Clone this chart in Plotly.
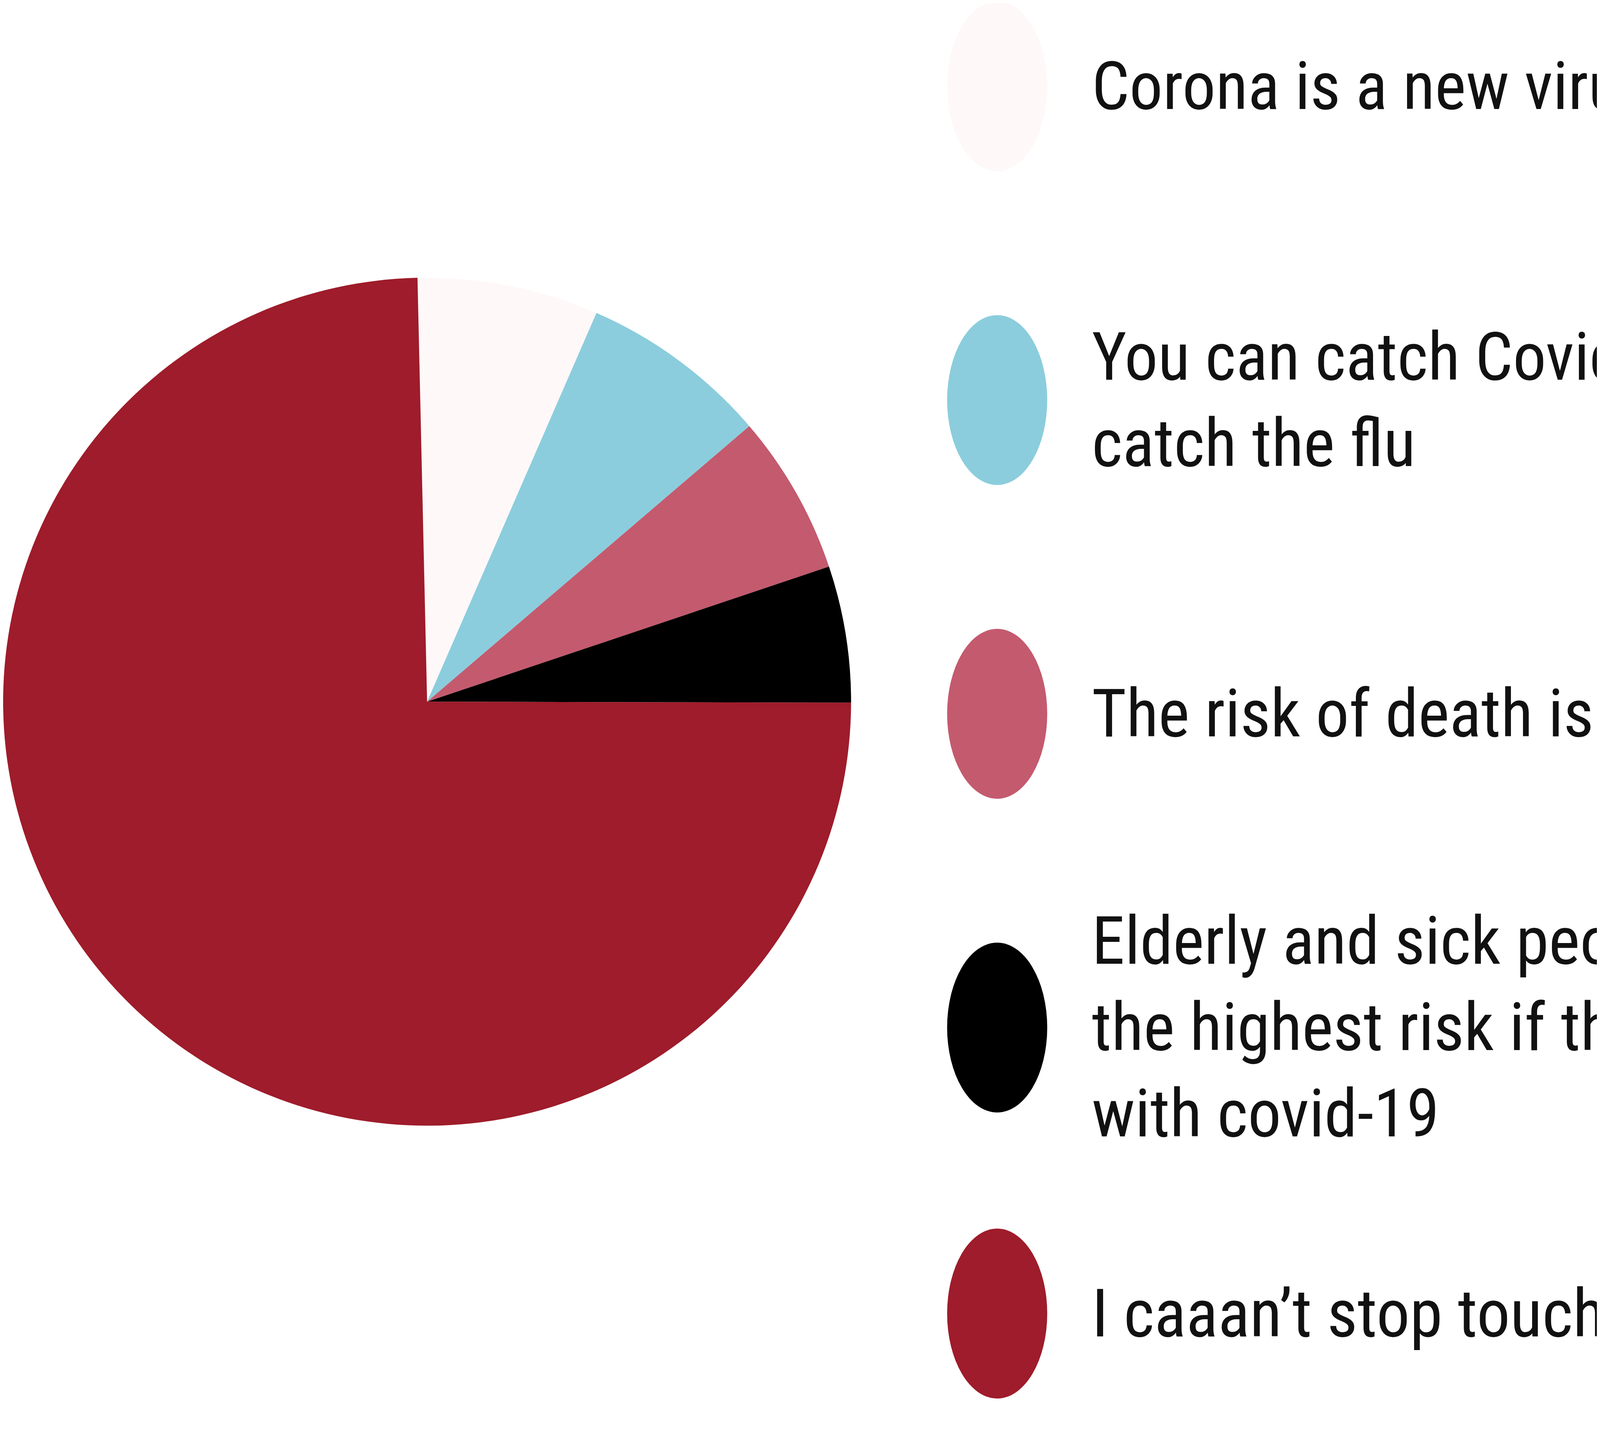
import plotly.graph_objects as go

labels = ["Corona is a new virus",
          "You can catch Covid-19 like you<br>catch the flu",
          "The risk of death is around 3%",
          "Elderly and sick people are at<br>the highest risk if they get sick<br>with covid-19",
          "I caaan’t stop touching my face"]
values = [6.9, 7.2, 6.1, 5.2, 74.6]
colors = ["#fff8f9", "#8bcddd", "#c45a6e", "#000000", "#9e1c2b"]
legend_y = [48, 229, 410, 591, 756]  # display rows of legend circles

W, H = 6922, 3722
S = W / 1560
h = H / S

fig = go.Figure(go.Pie(
    labels=labels, values=values, sort=False, direction="clockwise",
    rotation=-1.3, marker=dict(colors=colors, line=dict(width=0)),
    textinfo="none", hoverinfo="label+percent",
    domain=dict(x=[0, 830 / 1560], y=[(h - 806) / h, 1]),
    showlegend=False,
))

r = 49
for lab, col, yy in zip(labels, colors, legend_y):
    fig.add_shape(type="circle", xref="paper", yref="paper",
                  x0=(973 - r) / 1560, x1=(973 + r) / 1560,
                  y0=1 - (yy + r) / h, y1=1 - (yy - r) / h,
                  fillcolor=col, line=dict(width=0))
    fig.add_annotation(xref="paper", yref="paper", x=1065 / 1560, y=1 - yy / h,
                       text=lab, showarrow=False, xanchor="left", yanchor="middle",
                       align="left",
                       font=dict(family="Liberation Sans Narrow, Roboto Condensed, Liberation Sans",
                                 size=170, color="#111111"))

fig.update_layout(autosize=True, margin=dict(l=0, r=0, t=0, b=0),
                  paper_bgcolor="white", plot_bgcolor="white")
fig.write_html("out.html", default_width="100%", default_height="100vh",
               config={"responsive": True})
